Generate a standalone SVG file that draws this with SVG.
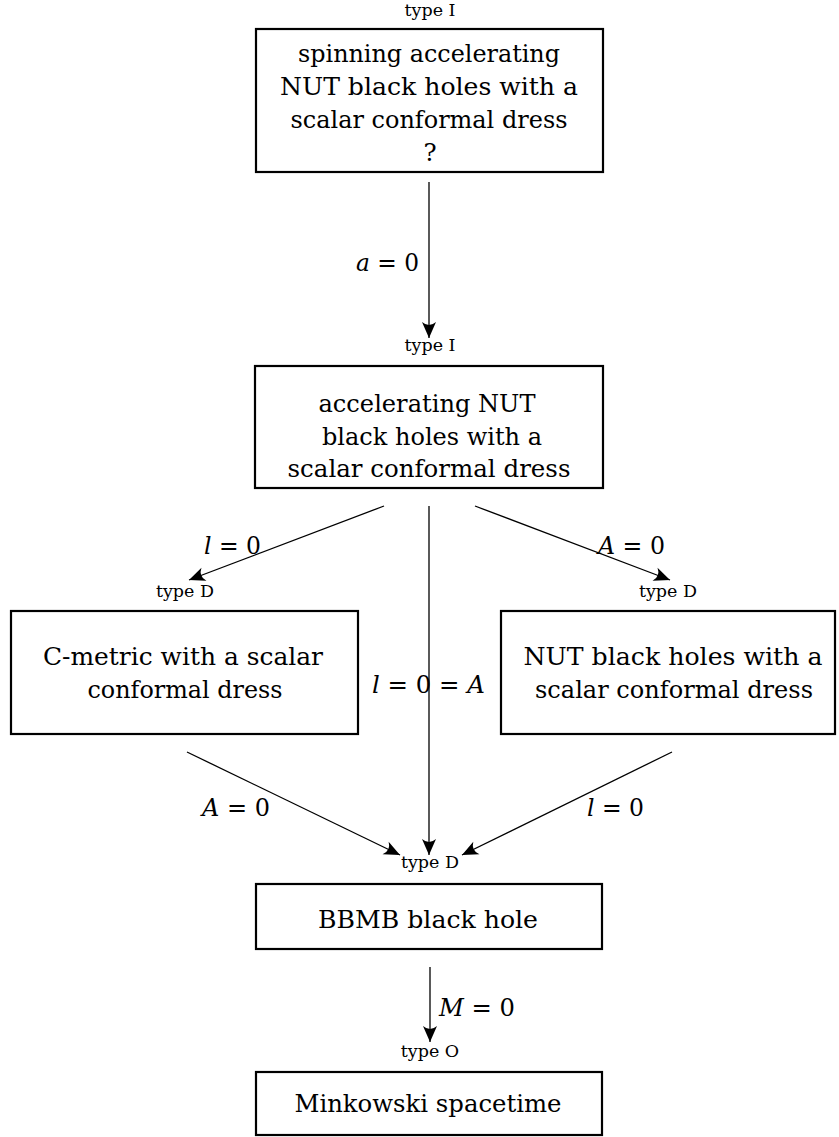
<svg xmlns="http://www.w3.org/2000/svg" width="839" height="1137" viewBox="0 0 839 1137">
<style>
.box{fill:#fff;stroke:#000;stroke-width:2.2}
.t{font-family:"DejaVu Serif","Liberation Serif",serif;font-size:24.5px;fill:#000;text-anchor:middle}
.m{font-family:"DejaVu Serif","Liberation Serif",serif;font-size:24.5px;fill:#000}
.i{font-style:italic}
.ty{font-family:"DejaVu Serif",serif;font-size:17.5px;fill:#000;text-anchor:middle}
.c{fill:none;stroke:#000;stroke-width:1.3}
</style>
<defs>
<marker id="ah" viewBox="-18 -9 20 18" markerWidth="20" markerHeight="18" refX="0" refY="0" orient="auto" markerUnits="userSpaceOnUse">
<path d="M0,0 L-16,-7 Q-10,0 -16,7 Z" fill="#000"/>
</marker>
</defs>
<rect width="839" height="1137" fill="#fff"/>

<g id="connectors">
<line class="c" x1="429" y1="182" x2="429" y2="338" marker-end="url(#ah)"/>
<line class="c" x1="384" y1="506" x2="189" y2="580" marker-end="url(#ah)"/>
<line class="c" x1="475" y1="506" x2="670" y2="580" marker-end="url(#ah)"/>
<line class="c" x1="429" y1="506" x2="429" y2="855" marker-end="url(#ah)"/>
<line class="c" x1="187" y1="752" x2="400" y2="855" marker-end="url(#ah)"/>
<line class="c" x1="672" y1="752" x2="462" y2="855" marker-end="url(#ah)"/>
<line class="c" x1="430" y1="967" x2="430" y2="1042" marker-end="url(#ah)"/>
<text class="m" x="356" y="271" textLength="63" lengthAdjust="spacingAndGlyphs"><tspan class="i">a</tspan> = 0</text>
<text class="m" x="204" y="554" textLength="57" lengthAdjust="spacingAndGlyphs"><tspan class="i">l</tspan> = 0</text>
<text class="m" x="598" y="554" textLength="67" lengthAdjust="spacingAndGlyphs"><tspan class="i">A</tspan> = 0</text>
<text class="m" x="372" y="693" textLength="113" lengthAdjust="spacingAndGlyphs"><tspan class="i">l</tspan> = 0 = <tspan class="i">A</tspan></text>
<text class="m" x="202" y="816" textLength="68" lengthAdjust="spacingAndGlyphs"><tspan class="i">A</tspan> = 0</text>
<text class="m" x="587" y="816" textLength="57" lengthAdjust="spacingAndGlyphs"><tspan class="i">l</tspan> = 0</text>
<text class="m" x="439" y="1016" textLength="76" lengthAdjust="spacingAndGlyphs"><tspan class="i">M</tspan> = 0</text>
</g>

<g id="n1">
<text class="ty" x="430" y="16">type I</text>
<rect class="box" x="256" y="29" width="347" height="143"/>
<text class="t" x="429" y="62" textLength="262" lengthAdjust="spacingAndGlyphs">spinning accelerating</text>
<text class="t" x="429" y="95" textLength="298" lengthAdjust="spacingAndGlyphs">NUT black holes with a</text>
<text class="t" x="429" y="128" textLength="277" lengthAdjust="spacingAndGlyphs">scalar conformal dress</text>
<text class="t" x="430" y="161">?</text>
</g>

<g id="n2">
<text class="ty" x="430" y="351">type I</text>
<rect class="box" x="255" y="366" width="348" height="122"/>
<text class="t" x="427" y="412" textLength="217" lengthAdjust="spacingAndGlyphs">accelerating NUT</text>
<text class="t" x="432" y="445" textLength="220" lengthAdjust="spacingAndGlyphs">black holes with a</text>
<text class="t" x="429" y="477" textLength="283" lengthAdjust="spacingAndGlyphs">scalar conformal dress</text>
</g>

<g id="n3">
<text class="ty" x="185" y="597">type D</text>
<rect class="box" x="11" y="611" width="347" height="123"/>
<text class="t" x="183" y="665" textLength="280" lengthAdjust="spacingAndGlyphs">C-metric with a scalar</text>
<text class="t" x="185" y="698" textLength="195" lengthAdjust="spacingAndGlyphs">conformal dress</text>
</g>

<g id="n4">
<text class="ty" x="668" y="597">type D</text>
<rect class="box" x="501" y="611" width="334" height="123"/>
<text class="t" x="673" y="665" textLength="299" lengthAdjust="spacingAndGlyphs">NUT black holes with a</text>
<text class="t" x="674" y="698" textLength="278" lengthAdjust="spacingAndGlyphs">scalar conformal dress</text>
</g>

<g id="n5">
<text class="ty" x="430" y="868">type D</text>
<rect class="box" x="256" y="884" width="346" height="65"/>
<text class="t" x="428" y="928" textLength="220" lengthAdjust="spacingAndGlyphs">BBMB black hole</text>
</g>

<g id="n6">
<text class="ty" x="430" y="1057">type O</text>
<rect class="box" x="256" y="1072" width="346" height="63"/>
<text class="t" x="428" y="1112" textLength="267" lengthAdjust="spacingAndGlyphs">Minkowski spacetime</text>
</g>
</svg>
